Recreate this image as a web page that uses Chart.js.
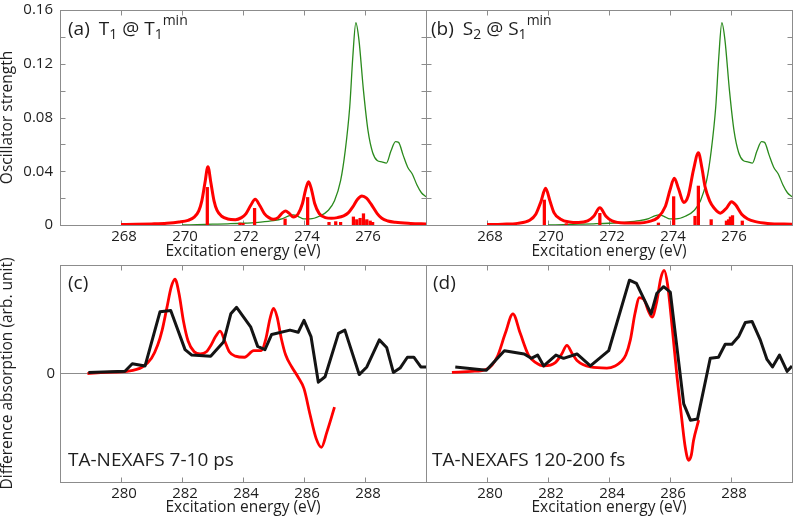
<!DOCTYPE html>
<html><head><meta charset="utf-8">
<script src="https://cdn.jsdelivr.net/npm/chart.js@4.4.1/dist/chart.umd.min.js"></script>
<style>
html,body{margin:0;padding:0;background:#fff;}
#wrap{position:relative;width:793px;height:520px;overflow:hidden;font-family:'Open Sans',sans-serif;color:#1e1e1e;}
canvas{position:absolute;left:0;top:0;}
.lbl{position:absolute;font-size:19px;line-height:19px;white-space:nowrap;z-index:5;}
.lbl sub{font-size:14px;vertical-align:-4px;line-height:0;}
.lbl sup{font-size:14px;vertical-align:10px;line-height:0;}
.gap{display:inline-block;width:9px;}
</style></head><body>
<div id="wrap">
<canvas id="pa" width="793" height="520"></canvas>
<canvas id="pb" width="793" height="520"></canvas>
<canvas id="pc" width="793" height="520"></canvas>
<canvas id="pd" width="793" height="520"></canvas>
<div class="lbl" style="left:68px;top:19px">(a)<span class="gap"></span>T<sub>1</sub> @ T<sub>1</sub><sup>min</sup></div>
<div class="lbl" style="left:431px;top:19px">(b)<span class="gap"></span>S<sub>2</sub> @ S<sub>1</sub><sup>min</sup></div>
<div class="lbl" style="left:68px;top:273px">(c)</div>
<div class="lbl" style="left:433px;top:273px">(d)</div>
<div class="lbl" style="left:68px;top:450px">TA-NEXAFS 7-10 ps</div>
<div class="lbl" style="left:432px;top:450px">TA-NEXAFS 120-200 fs</div>
</div>
<script>
// ---------- tick labels ----------
const oscTicks = [0, 0.04, 0.08, 0.12, 0.16];
const oscMinorTicks = [0.02, 0.04, 0.06, 0.08, 0.10, 0.12, 0.14];
const energyTicksTop = [268, 270, 272, 274, 276];
const energyTicksBottom = [280, 282, 284, 286, 288];
const diffTicks = [0];

// ---------- (a) T1 @ T1min ----------
const t1CurveE = [268.0,268.5,269.0,269.5,269.9,270.2,270.4,270.55,270.65,270.75,270.85,270.95,271.05,271.15,271.3,271.5,271.75,271.95,272.1,272.25,272.4,272.55,272.7,272.85,273.0,273.15,273.3,273.4,273.5,273.65,273.8,273.95,274.05,274.15,274.25,274.35,274.5,274.7,274.9,275.1,275.3,275.45,275.6,275.75,275.9,276.05,276.2,276.4,276.55,276.75,277.0,277.5,278.0];
const t1CurveF = [0.0003,0.0005,0.0008,0.0013,0.0022,0.0035,0.0058,0.0105,0.018,0.031,0.0434,0.031,0.018,0.0108,0.0065,0.0045,0.004,0.0055,0.0085,0.0145,0.0191,0.0145,0.0085,0.0055,0.0042,0.0055,0.0092,0.0104,0.009,0.006,0.008,0.016,0.026,0.0322,0.026,0.016,0.0085,0.0055,0.005,0.0055,0.0068,0.009,0.0135,0.019,0.0216,0.02,0.0155,0.0085,0.005,0.003,0.002,0.0012,0.0008];
const t1StickE = [270.83,271.9,272.0,272.38,273.38,274.12,274.82,275.04,275.2,275.62,275.73,275.84,275.95,276.06,276.17,276.25];
const t1StickF = [0.028,0.0015,0.0012,0.0124,0.0045,0.0205,0.002,0.0025,0.002,0.006,0.004,0.005,0.0084,0.004,0.003,0.002];

// ---------- ground-state reference (green, both panels) ----------
const gsE = [270.0,270.5,271.0,271.5,272.0,272.5,273.0,273.3,273.5,273.65,273.8,274.0,274.2,274.5,274.8,275.0,275.2,275.35,275.5,275.6,275.7,275.8,275.95,276.1,276.25,276.4,276.55,276.7,276.85,277.0,277.1,277.25,277.4,277.55,277.7,277.85,278.0];
const gsF = [0,0.0003,0.0006,0.0009,0.0013,0.002,0.0032,0.0048,0.0068,0.0075,0.0065,0.0045,0.0045,0.0065,0.011,0.018,0.033,0.055,0.088,0.125,0.1505,0.138,0.1,0.07,0.054,0.048,0.047,0.046,0.055,0.062,0.0615,0.052,0.043,0.038,0.030,0.024,0.021];

// ---------- (b) S2 @ S1min ----------
const s2CurveE = [268.0,268.5,269.0,269.4,269.6,269.77,269.92,270.07,270.2,270.4,270.7,271.0,271.3,271.5,271.7,271.9,272.1,272.5,273.0,273.3,273.6,273.85,274.0,274.14,274.28,274.45,274.6,274.77,274.93,275.05,275.15,275.3,275.45,275.65,275.85,276.02,276.15,276.35,276.55,276.8,277.2,278.0];
const s2CurveF = [0.0003,0.0006,0.0012,0.0035,0.008,0.0175,0.0273,0.0175,0.009,0.0045,0.0022,0.0018,0.003,0.0065,0.0129,0.0065,0.003,0.0015,0.0015,0.0025,0.0055,0.014,0.026,0.0348,0.027,0.0168,0.022,0.041,0.0538,0.042,0.0285,0.018,0.0125,0.0088,0.0125,0.0173,0.015,0.008,0.0045,0.0025,0.0012,0.0005];
const s2StickE = [269.88,270.6,271.7,273.62,274.12,274.82,274.93,275.35,275.85,275.92,275.98,276.05,276.37];
const s2StickF = [0.0186,0.001,0.0087,0.0015,0.0211,0.0065,0.029,0.004,0.003,0.004,0.006,0.007,0.003];

// ---------- (c) 7-10 ps ----------
const cCalcE = [278.9,279.5,280.2,280.7,281.0,281.2,281.35,281.5,281.65,281.77,281.9,282.05,282.2,282.4,282.6,282.8,282.95,283.1,283.25,283.4,283.55,283.75,284.05,284.35,284.6,284.75,284.88,285.0,285.12,285.25,285.4,285.6,285.8,286.0,286.2,286.4,286.57,286.75,287.0];
const cCalcV = [0,0.01,0.02,0.06,0.14,0.26,0.4,0.6,0.8,0.87,0.74,0.48,0.3,0.2,0.18,0.2,0.26,0.34,0.39,0.3,0.2,0.16,0.15,0.21,0.21,0.32,0.5,0.6,0.52,0.33,0.17,0.06,-0.03,-0.14,-0.38,-0.6,-0.68,-0.54,-0.31];
const cExpE = [278.93,280.13,280.37,280.79,281.28,281.63,282.1,282.32,282.94,283.36,283.6,283.79,284.25,284.48,284.72,284.94,285.54,285.81,286.0,286.23,286.47,286.69,287.13,287.34,287.81,288.06,288.47,288.71,288.93,289.15,289.39,289.6,289.83,290.0];
const cExpV = [0.01,0.02,0.09,0.07,0.57,0.58,0.22,0.17,0.16,0.29,0.55,0.61,0.43,0.25,0.22,0.36,0.40,0.38,0.49,0.34,-0.08,-0.03,0.37,0.40,-0.01,0.06,0.31,0.24,0.01,0.05,0.15,0.15,0.06,0.06];

// ---------- (d) 120-200 fs ----------
const dCalcE = [278.85,279.5,280.0,280.33,280.6,280.85,281.09,281.36,281.6,281.86,282.24,282.45,282.62,282.8,282.95,283.39,283.93,284.2,284.4,284.55,284.7,284.85,285.0,285.15,285.3,285.41,285.55,285.7,285.81,285.92,286.07,286.23,286.39,286.5,286.61,286.7,286.77,286.94];
const dCalcV = [0.01,0.02,0.04,0.15,0.37,0.55,0.37,0.17,0.1,0.07,0.10,0.18,0.26,0.18,0.12,0.06,0.05,0.07,0.11,0.17,0.31,0.55,0.70,0.68,0.57,0.52,0.64,0.88,0.95,0.82,0.43,-0.03,-0.43,-0.68,-0.80,-0.75,-0.62,-0.43];
const dExpE = [278.96,279.98,280.57,281.22,281.45,281.66,281.86,282.26,282.51,282.95,283.39,283.99,284.67,284.9,285.38,285.57,285.79,286.01,286.45,286.67,286.9,287.32,287.59,287.81,288.03,288.25,288.47,288.69,288.96,289.18,289.36,289.59,289.84,290.0];
const dExpV = [0.06,0.03,0.21,0.18,0.14,0.17,0.07,0.17,0.14,0.18,0.07,0.21,0.86,0.83,0.55,0.74,0.80,0.75,-0.28,-0.43,-0.42,0.14,0.15,0.27,0.27,0.34,0.47,0.48,0.31,0.13,0.06,0.17,0.02,0.07];

// ---------- styling ----------
const FONT = "'Open Sans', sans-serif";
const AXIS = '#8c8c8c';
const TXT = '#1e1e1e';
const RED = '#ff0000';
const GREEN = '#2a8a1c';
const BLACK = '#141414';

const zip = (xs, ys) => xs.map((x, i) => ({x: x, y: ys[i]}));

const frameTicks = {
  id: 'frameTicks',
  beforeDatasetsDraw(chart, args, o) {
    const ctx = chart.ctx, a = chart.chartArea, xs = chart.scales.x, ys = chart.scales.y;
    const L = Math.round(a.left) + 0.5, R = Math.round(a.right) + 0.5;
    const T = Math.round(a.top) + 0.5, B = Math.round(a.bottom) + 0.5;
    ctx.save();
    ctx.strokeStyle = o.color; ctx.lineWidth = 1;
    ctx.strokeRect(L, T, R - L, B - T);
    ctx.beginPath();
    (o.xTicks || []).forEach(v => {
      const p = Math.round(xs.getPixelForValue(v)) + 0.5;
      ctx.moveTo(p, T); ctx.lineTo(p, T + o.len);
      ctx.moveTo(p, B); ctx.lineTo(p, B - o.len);
    });
    (o.yTicks || []).forEach(v => {
      const p = Math.round(ys.getPixelForValue(v)) + 0.5;
      ctx.moveTo(L, p); ctx.lineTo(L + o.len, p);
      ctx.moveTo(R, p); ctx.lineTo(R - o.len, p);
    });
    ctx.stroke();
    ctx.restore();
  }
};

function panel(id, p) {
  const W = 793, H = 520;
  return new Chart(document.getElementById(id), {
    type: 'line',
    data: { datasets: p.datasets },
    options: {
      responsive: false, animation: false, events: [],
      layout: { padding: { left: p.left - p.yWidth, right: W - p.right, top: p.top, bottom: H - p.bottom - p.xHeight } },
      plugins: {
        legend: { display: false }, tooltip: { enabled: false },
        frameTicks: { color: AXIS, len: 5, xTicks: p.xTicks, yTicks: p.yMinor }
      },
      scales: {
        x: {
          type: 'linear', min: p.xMin, max: p.xMax, offset: false,
          afterBuildTicks: s => { s.ticks = p.xTicks.map(v => ({ value: v })); },
          afterFit: s => { s.height = p.xHeight; s.paddingLeft = 0; s.paddingRight = 0; },
          grid: { display: false, offset: false, drawTicks: false },
          border: { display: false },
          ticks: { padding: 3, labelOffset: 3, maxRotation: 0, autoSkip: false, color: TXT, font: { family: FONT, size: 15 } },
          title: { display: true, text: 'Excitation energy (eV)', color: TXT, font: { family: FONT, size: 15.5, lineHeight: 1.2 }, padding: 0 }
        },
        y: {
          type: 'linear', min: p.yMin, max: p.yMax,
          afterBuildTicks: s => { s.ticks = p.yTicks.map(v => ({ value: v })); },
          afterFit: s => { s.width = p.yWidth; s.paddingTop = 0; s.paddingBottom = 0; },
          grid: { display: p.zeroLine, drawTicks: false, color: AXIS, lineWidth: 1 },
          border: { display: false },
          ticks: {
            display: p.yLabels, padding: p.yPad, color: TXT, font: { family: FONT, size: 15 },
            callback: v => (v === 0 ? '0' : v.toFixed(2))
          },
          title: { display: !!p.yTitle, text: p.yTitle || '', color: TXT, font: { family: FONT, size: 15.5, lineHeight: 1 }, padding: 0 }
        }
      }
    },
    plugins: [frameTicks]
  });
}

const curve = (data, color, w, order) => ({ type: 'line', data: data, borderColor: color, borderWidth: w, pointRadius: 0, fill: false, cubicInterpolationMode: 'monotone', order: order });
const jagged = (data, color, w, order) => ({ type: 'line', data: data, borderColor: color, borderWidth: w, pointRadius: 0, fill: false, tension: 0, borderJoinStyle: 'round', order: order });
const sticks = (data, color) => ({ type: 'bar', data: data, backgroundColor: color, borderWidth: 0, barThickness: 2.6, order: 1 });

panel('pa', {
  left: 60, right: 426, top: 10, bottom: 225, xHeight: 36, yWidth: 60, yPad: 7, yLabels: true,
  xMin: 266, xMax: 278, xTicks: energyTicksTop, yMin: 0, yMax: 0.16, yTicks: oscTicks, yMinor: oscMinorTicks,
  zeroLine: false, yTitle: 'Oscillator strength',
  datasets: [curve(zip(t1CurveE, t1CurveF), RED, 3, 0), sticks(zip(t1StickE, t1StickF), RED), curve(zip(gsE, gsF), GREEN, 1.3, 2)]
});
panel('pb', {
  left: 426, right: 792, top: 10, bottom: 225, xHeight: 36, yWidth: 0, yPad: 0, yLabels: false,
  xMin: 266, xMax: 278, xTicks: energyTicksTop, yMin: 0, yMax: 0.16, yTicks: oscTicks, yMinor: oscMinorTicks,
  zeroLine: false, yTitle: '',
  datasets: [curve(zip(s2CurveE, s2CurveF), RED, 3, 0), sticks(zip(s2StickE, s2StickF), RED), curve(zip(gsE, gsF), GREEN, 1.3, 2)]
});
panel('pc', {
  left: 60, right: 426, top: 265, bottom: 482, xHeight: 35, yWidth: 60, yPad: 5, yLabels: true,
  xMin: 278, xMax: 290, xTicks: energyTicksBottom, yMin: -1, yMax: 1, yTicks: diffTicks, yMinor: [],
  zeroLine: true, yTitle: 'Difference absorption (arb. unit)',
  datasets: [curve(zip(cCalcE, cCalcV), RED, 2.8, 1), jagged(zip(cExpE, cExpV), BLACK, 3, 0)]
});
panel('pd', {
  left: 426, right: 792, top: 265, bottom: 482, xHeight: 35, yWidth: 0, yPad: 0, yLabels: false,
  xMin: 278, xMax: 290, xTicks: energyTicksBottom, yMin: -1, yMax: 1, yTicks: diffTicks, yMinor: [],
  zeroLine: true, yTitle: '',
  datasets: [curve(zip(dCalcE, dCalcV), RED, 2.8, 1), jagged(zip(dExpE, dExpV), BLACK, 3, 0)]
});
</script>
</body></html>
